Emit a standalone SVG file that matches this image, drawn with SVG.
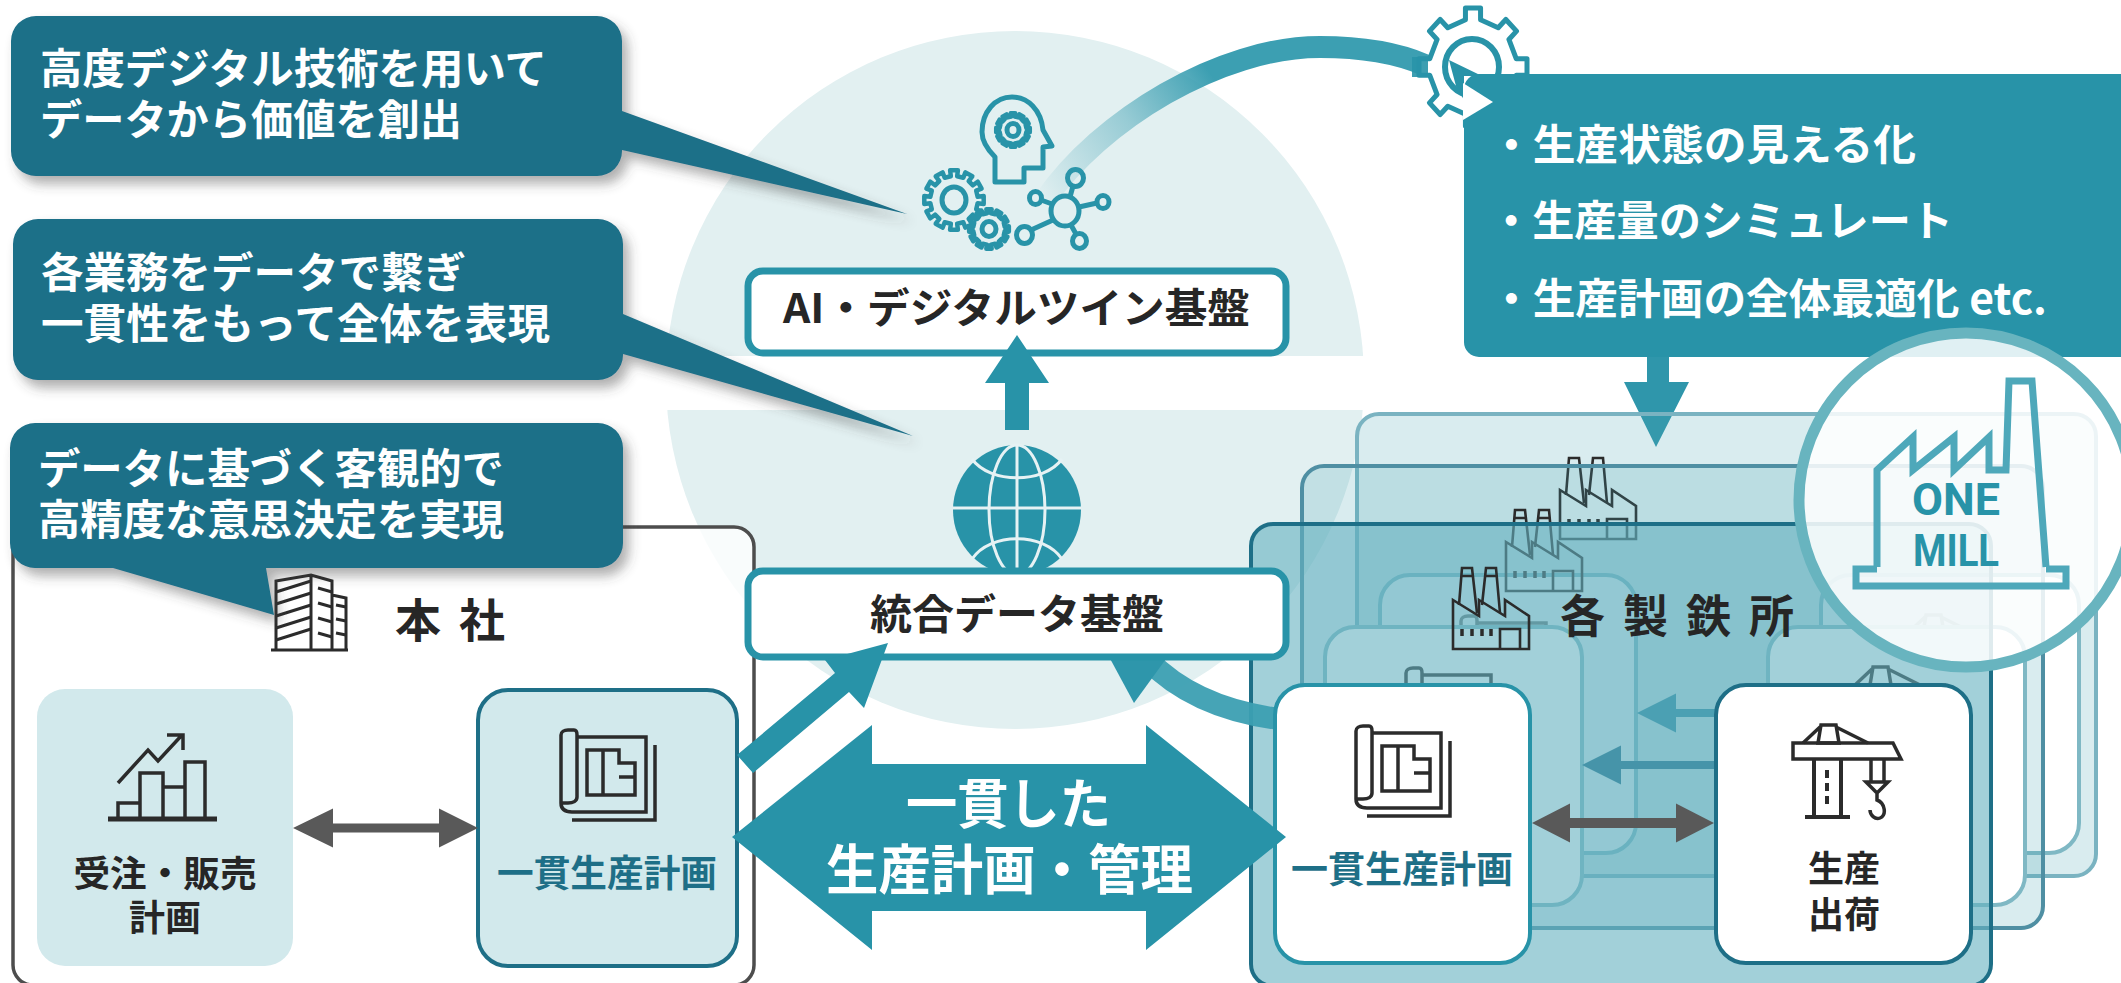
<svg xmlns="http://www.w3.org/2000/svg" xmlns:xlink="http://www.w3.org/1999/xlink" width="2121" height="983" viewBox="0 0 2121 983">
<style>
text{font-family:"Noto Sans CJK JP","Noto Sans",sans-serif}
.cw{font-size:42px;font-weight:700;fill:#fff}
.bk{font-size:41px;font-weight:700;fill:#262626}
.lb{font-size:36px;font-weight:700;fill:#262626;text-anchor:middle}
.lt{font-size:37px;font-weight:700;fill:#1e6f87}
.tl{fill:none;stroke:#2893a8;stroke-width:5;stroke-linejoin:round}
.ic{fill:none;stroke:#2b2b2b;stroke-width:3.5;stroke-linejoin:miter}
.callout{fill:#1d6f88;filter:url(#sh)}
.ga{fill:#595959}
.teal{fill:#2893a8}
</style>
<defs>
<filter id="sh" x="-10%" y="-10%" width="125%" height="130%"><feDropShadow dx="6" dy="8" stdDeviation="6" flood-color="#444" flood-opacity=".42"/></filter>
<linearGradient id="arc" gradientUnits="userSpaceOnUse" x1="1040" y1="200" x2="1215" y2="80"><stop offset="0" stop-color="#3c9fb2" stop-opacity="0"/><stop offset=".55" stop-color="#3c9fb2" stop-opacity=".45"/><stop offset="1" stop-color="#3c9fb2"/></linearGradient>
<path id="g12" d="M99 -13L99 13L79 10.500L74 31L92 38L79 61L63 49L49 63L61 79L38 92L31 74L10.500 79L13 99L-13 99L-10.500 79L-31 74L-38 92L-61 79L-49 63L-63 49L-79 61L-92 38L-74 31L-79 10.500L-99 13L-99 -13L-79 -10.500L-74 -31L-92 -38L-79 -61L-63 -49L-49 -63L-61 -79L-38 -92L-31 -74L-10.500 -79L-13 -99L13 -99L10.500 -79L31 -74L38 -92L61 -79L49 -63L63 -49L79 -61L92 -38L74 -31L79 -10.500Z"/>
<g id="blue" class="ic">
<path d="M17 8H86V83H12C5 83 1 80 1 74V6C1 3 4 1 8 1H14C16 1 17 3 17 6V68C17 72 13 74 8 74H1"/>
<path d="M95 16V91H12"/>
<path d="M27 21H59V34H75V66H27ZM43 21V66M59 48H75"/>
</g>
<g id="crane" class="ic">
<path d="M0 18H100L108 34H0Z"/>
<path d="M28 0H43L46 18H25ZM27 2L10 18M43 2L75 18"/>
<path d="M21 34V92M48 34V92M12 92H57" stroke-width="4"/>
<path d="M34 45V80" stroke-dasharray="8 5" stroke-width="4"/>
<path d="M78 34V57M91 34V57M73 57H95L84 68ZM84 68V75C92 78 94 90 87 93C82 95 77 90 77 85"/>
</g>
<g id="fac" class="ic" style="stroke-width:2.600px">
<path d="M0 82H76V49L52 33V49L26 33V49L0 33Z"/>
<path d="M6 38L9 1H19L24 46M29 38L33 1H43L47 46M8 9H20M32 9H44"/>
<path d="M47 82V62H67V82"/>
<path d="M9 62V69M19 62V69M29 62V69M38 62V69" style="stroke-width:3.500px"/>
</g>
</defs>
<rect width="2121" height="983" fill="#fff"/>

<g id="pale-circle">
<circle cx="1015" cy="380" r="349" fill="#e2f0f1"/>
<rect x="650" y="356" width="730" height="54" fill="#fff"/>
</g>

<g id="ai-icons">
<path class="tl" d="M995 182H1024V168H1043V147L1052 146L1043 130C1041 110 1028 97 1012 97C995 97 982 112 982 132C982 142 988 150 995 157Z"/>
<g class="tl"><use xlink:href="#g12" transform="translate(1013 130) scale(.17)" style="stroke-width:26"/><ellipse cx="1013" cy="130" rx="6" ry="6.500"/>
<use xlink:href="#g12" transform="translate(954 200) scale(.3)" style="stroke-width:15"/><ellipse cx="954" cy="200" rx="12" ry="13"/>
<use xlink:href="#g12" transform="translate(989 229) scale(.2)" style="stroke-width:23"/><ellipse cx="989" cy="229" rx="7" ry="7.500"/>
<ellipse cx="1065" cy="211" rx="14" ry="15"/><ellipse cx="1075.500" cy="178" rx="8" ry="8.500"/><ellipse cx="1103" cy="202" rx="6" ry="6.500"/><ellipse cx="1035.500" cy="198" rx="6" ry="6.500"/><ellipse cx="1024.500" cy="235" rx="8" ry="8.500"/><ellipse cx="1079.500" cy="241" rx="7" ry="7.500"/>
<path d="M1070 197L1073 186M1079 207L1097 203M1052 204L1041 200M1053 220L1031 230M1071 225L1076 234"/></g>
</g>

<g id="connectors-top">
<path d="M1045 200C1100 120 1220 47 1320 47C1360 47 1395 52 1425 65" fill="none" stroke="url(#arc)" stroke-width="22"/>
<path class="teal" d="M1647 350H1669V382H1689L1656 447L1624 382H1647Z" fill-opacity=".97"/>
</g>

<g id="node-ai">
<rect x="748" y="271" width="538" height="82" rx="15" fill="#fff" stroke="#2893a8" stroke-width="7"/>
<text class="bk" x="783" y="323" textLength="467" lengthAdjust="spacingAndGlyphs">AI・デジタルツイン基盤</text>
</g>
<path id="arrow-up" class="teal" d="M1017 335L1049 383H1029V430H1005V383H985Z"/>

<g id="globe">
<ellipse cx="1017" cy="510" rx="64" ry="65" fill="#2893a8"/>
<g fill="none" stroke="#e6f2f4" stroke-width="3">
<path d="M953 508H1081M1017 445V575"/>
<ellipse cx="1017" cy="510" rx="28" ry="65"/>
<path d="M972 459C990 484 1044 484 1062 459M972 559C990 532 1044 532 1062 559"/>
</g>
</g>

<g id="mills">
<g id="mill-layer-4">
<rect x="1357" y="414" width="739" height="462" rx="22" fill="#4ca7b5" fill-opacity=".21" stroke="#7ab3c1" stroke-width="4"/>
<rect x="1380" y="575" width="256" height="278" rx="30" fill="#fff" stroke="#7fb8c4" stroke-width="4"/>
<rect x="1821" y="575" width="258" height="278" rx="30" fill="#fff" stroke="#7fb8c4" stroke-width="4"/>
<use xlink:href="#blue" x="1460" y="615" opacity=".7"/>
<use xlink:href="#crane" x="1898" y="615" opacity=".7"/>
<use xlink:href="#fac" x="1560" y="457"/>
</g>
<g id="mill-layer-3">
<rect x="1302" y="466" width="741" height="462" rx="22" fill="#4ca7b5" fill-opacity=".21" stroke="#4f8fa3" stroke-width="4"/>
<rect x="1325" y="627" width="257" height="278" rx="30" fill="#fff" stroke="#7fb8c4" stroke-width="4"/>
<rect x="1768" y="627" width="257" height="278" rx="30" fill="#fff" stroke="#7fb8c4" stroke-width="4"/>
<use xlink:href="#blue" x="1405" y="667"/>
<use xlink:href="#crane" x="1845" y="667"/>
<use xlink:href="#fac" x="1506" y="509"/>
</g>
<g id="mill-main">
<rect x="1251" y="524" width="740" height="462" rx="22" fill="#64b1c0" fill-opacity=".6" stroke="#1e6f87" stroke-width="4"/>
<use xlink:href="#fac" x="1453" y="567"/>
<text x="1560" y="633" fill="#262626" letter-spacing="18" style="font-size:45px;font-weight:700">各製鉄所</text>
<path fill="#4ba0b3" d="M1637 713L1676 693.500V709H1720V717H1676V732.500Z"/>
<path fill="#4694a9" d="M1582 765L1621 745.500V761H1720V769H1621V784.500Z"/>
</g>
</g>

<g id="connectors-feed">
<path d="M1279 719C1225 712 1180 693 1148 660" fill="none" stroke="#3c9fb2" stroke-opacity=".95" stroke-width="22"/>
<path fill="#2e96ab" d="M1100 640L1171 652L1134 703Z"/>
</g>

<g id="node-plan-mill">
<rect x="1275" y="685" width="255" height="278" rx="30" fill="#fff" stroke="#2893a8" stroke-width="4"/>
<use xlink:href="#blue" x="1355" y="725"/>
<text class="lt" x="1291" y="883" textLength="222" lengthAdjust="spacingAndGlyphs">一貫生産計画</text>
</g>
<g id="node-prod">
<rect x="1716" y="685" width="255" height="278" rx="30" fill="#fff" stroke="#1e6f87" stroke-width="4"/>
<use xlink:href="#crane" x="1793" y="725"/>
<text class="lb" x="1844" y="882">生産</text>
<text class="lb" x="1844" y="928">出荷</text>
</g>
<path id="arrow-mill" class="ga" d="M1532 823L1570 803.500V818H1676V803.500L1714 823L1676 842.500V828H1570V842.500Z"/>

<g id="node-hq">
<rect x="13" y="527" width="741" height="458" rx="20" fill="#fff" fill-opacity=".8" stroke="#4d4d4d" stroke-width="3.500"/>
<g class="ic" style="stroke-width:3px">
<path d="M271 650H348M276 650V581L311 575L332 581V650M311 575V650M332 595L346 598V650"/>
<path d="M276 592L311 581M276 604L311 593M276 616L311 605M276 628L311 617M276 640L311 629M318 588L332 592M318 603L332 607M318 618L332 622M318 633L332 637M336 605L346 607M336 619L346 621M336 633L346 635"/>
</g>
<text x="395" y="637" style="font-size:46px;font-weight:700;fill:#262626" letter-spacing="18">本社</text>
</g>

<g id="node-sales">
<rect x="37" y="689" width="256" height="277" rx="28" fill="#d2e9ec"/>
<g class="ic">
<path d="M108 819H217" style="stroke-width:5px"/>
<path d="M118 819V803H140V773H163V819M140 819V773M163 787H185V819M185 787V762H205V819H118"/>
<path d="M118 783L148 750L158 761L182 735M167 735H183V750"/>
</g>
<text class="lb" x="165" y="887" textLength="183" lengthAdjust="spacingAndGlyphs">受注・販売</text>
<text class="lb" x="165" y="931">計画</text>
</g>
<g id="node-plan-hq">
<rect x="478" y="690" width="259" height="276" rx="30" fill="#d2e9ec" stroke="#1e6f87" stroke-width="4"/>
<use xlink:href="#blue" x="560" y="729"/>
<text class="lt" x="497" y="887" textLength="220" lengthAdjust="spacingAndGlyphs">一貫生産計画</text>
</g>
<path id="arrow-hq" class="ga" d="M293 828L333 808.500V823.500H439V808.500L478 828L439 847.500V832.500H333V847.500Z"/>

<g id="node-data">
<rect x="748" y="571" width="538" height="86" rx="15" fill="#fff" stroke="#2893a8" stroke-width="7"/>
<text class="bk" x="870" y="629" textLength="294" lengthAdjust="spacingAndGlyphs">統合データ基盤</text>
</g>
<path id="arrow-feed-hq" class="teal" d="M888 643L825 660L835 673L737 755L753 773L849 692L864 708Z"/>

<g id="big-arrow">
<path class="teal" d="M732 837L872 725V764H1146V725L1286 837L1146 950V911H872V950Z"/>
<text x="906" y="824" textLength="205" lengthAdjust="spacingAndGlyphs" style="font-size:54px;font-weight:700;fill:#fff">一貫した</text>
<text x="826" y="890" textLength="367" lengthAdjust="spacingAndGlyphs" style="font-size:54px;font-weight:700;fill:#fff">生産計画・管理</text>
</g>

<g id="gear-top">
<g transform="translate(1473 67) scale(54 59)"><path fill="#fff" stroke="#2893a8" stroke-width="5" stroke-linejoin="round" vector-effect="non-scaling-stroke" d="M1 -.14L1 .14L.8 .14L.665 .467L.806 .608L.608 .806L.467 .665L.14 .8L.14 1L-.14 1L-.14 .8L-.467 .665L-.608 .806L-.806 .608L-.665 .467L-.8 .14L-1 .14L-1 -.14L-.8 -.14L-.665 -.467L-.806 -.608L-.608 -.806L-.467 -.665L-.14 -.8L-.14 -1L.14 -1L.14 -.8L.467 -.665L.608 -.806L.806 -.608L.665 -.467L.8 -.14Z"/></g>
<ellipse cx="1472" cy="67" rx="27" ry="28" fill="#fff" stroke="#2893a8" stroke-width="6"/>
<path fill="#2893a8" d="M1412 57H1428V77H1412Z" opacity=".9"/>
</g>

<g id="panel">
<rect x="1464" y="74" width="680" height="283" rx="15" fill="#2893a8"/>
<path fill="#2893a8" d="M1449 60L1482 76H1464V100L1456 86Z"/>
<path fill="#fff" d="M1463 83L1493 102L1463 120Z"/>
<text class="cw" x="1490" y="160" textLength="426" lengthAdjust="spacingAndGlyphs">・生産状態の見える化</text>
<text class="cw" x="1490" y="236" textLength="463" lengthAdjust="spacingAndGlyphs">・生産量のシミュレート</text>
<text class="cw" x="1490" y="314" textLength="557" lengthAdjust="spacingAndGlyphs">・生産計画の全体最適化 etc.</text>
</g>

<g id="one-mill">
<circle cx="1966" cy="500" r="167" fill="#fff" fill-opacity=".86" stroke="#68b4bf" stroke-width="11"/>
<path fill="none" stroke="#4ea8ba" stroke-width="7" d="M1877 567V470L1913 437V470L1954 437V470L1989 437V470H2006L2009 381H2032L2046 567"/>
<path fill="none" stroke="#4ea8ba" stroke-width="7" d="M1877 569H1856V586H2066V569H2046"/>
<text x="1956" y="515" text-anchor="middle" textLength="88" lengthAdjust="spacingAndGlyphs" style="font-family:Roboto,sans-serif;font-size:44px;font-weight:700;fill:#2893a8">ONE</text>
<text x="1956" y="566" text-anchor="middle" textLength="86" lengthAdjust="spacingAndGlyphs" style="font-family:Roboto,sans-serif;font-size:44px;font-weight:700;fill:#2893a8">MILL</text>
</g>

<g id="callout-1">
<path class="callout" d="M36 16H597A25 25 0 0 1 622 41V111L907 214L622 150V151A25 25 0 0 1 597 176H36A25 25 0 0 1 11 151V41A25 25 0 0 1 36 16Z"/>
<text class="cw" x="40" y="84" textLength="507" lengthAdjust="spacingAndGlyphs">高度デジタル技術を用いて</text>
<text class="cw" x="40" y="135" textLength="422" lengthAdjust="spacingAndGlyphs">データから価値を創出</text>
</g>
<g id="callout-2">
<path class="callout" d="M38 219H598A25 25 0 0 1 623 244V314L913 436L623 354V355A25 25 0 0 1 598 380H38A25 25 0 0 1 13 355V244A25 25 0 0 1 38 219Z"/>
<text class="cw" x="41" y="288" textLength="425" lengthAdjust="spacingAndGlyphs">各業務をデータで繋ぎ</text>
<text class="cw" x="41" y="339" textLength="509" lengthAdjust="spacingAndGlyphs">一貫性をもって全体を表現</text>
</g>
<g id="callout-3">
<path class="callout" d="M35 423H598A25 25 0 0 1 623 448V543A25 25 0 0 1 598 568H266L274 615L113 568H35A25 25 0 0 1 10 543V448A25 25 0 0 1 35 423Z"/>
<text class="cw" x="38" y="484" textLength="466" lengthAdjust="spacingAndGlyphs">データに基づく客観的で</text>
<text class="cw" x="38" y="535" textLength="466" lengthAdjust="spacingAndGlyphs">高精度な意思決定を実現</text>
</g>
</svg>
